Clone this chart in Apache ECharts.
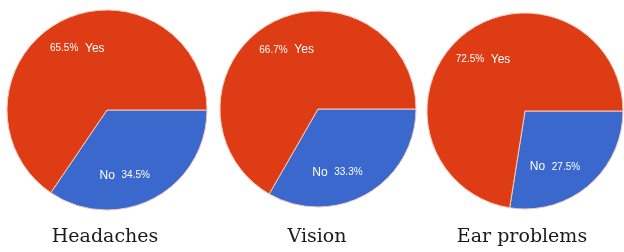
<!DOCTYPE html>
<html>
<head>
<meta charset="utf-8">
<script src="https://cdn.jsdelivr.net/npm/echarts@6/dist/echarts.min.js"></script>
<style>
  html, body { margin: 0; padding: 0; background: #fff; }
  #chart { width: 624px; height: 252px; }
</style>
</head>
<body>
<div id="chart"></div>
<script>
const titles = ['Headaches', 'Vision', 'Ear problems'];
const categories = ['No', 'Yes'];
const noValues = [34.5, 33.3, 27.5];
const yesValues = [65.5, 66.7, 72.5];

const colors = ['#3A68CD', '#DD3C14'];
const centers = [[107, 110], [318, 109], [525, 111]];
const radii = [100, 98, 98];
const titleX = [100, 312, 517];

const myChart = echarts.init(document.getElementById('chart'));

// push inside labels outwards a bit, and the "No" label a bit to the left
function pushOut(c) {
  return function (p) {
    const r = p.labelRect;
    const x = r.x + r.width / 2;
    const y = r.y + r.height / 2;
    const shift = p.dataIndex === 0 ? -16 : 4;
    return { dx: (x - c[0]) * 0.36 + shift, dy: (y - c[1]) * 0.36 + 2 };
  };
}

const series = titles.map((t, i) => ({
  name: t,
  type: 'pie',
  center: centers[i],
  radius: [0, radii[i]],
  startAngle: 0,
  clockwise: true,
  animation: false,
  silent: true,
  itemStyle: { borderColor: '#f4c9bd', borderWidth: 1 },
  label: {
    show: true,
    position: 'inside',
    color: '#fff',
    fontFamily: 'Arial, Liberation Sans, sans-serif',
    formatter: (p) => p.name === 'Yes'
      ? '{p|' + p.value + '%}  {n|' + p.name + '}'
      : '{n|' + p.name + '}  {p|' + p.value + '%}',
    rich: {
      p: { fontSize: 10, color: '#fff' },
      n: { fontSize: 12, color: '#fff' }
    }
  },
  labelLine: { show: false },
  labelLayout: pushOut(centers[i]),
  data: categories.map((c, j) => ({
    name: c,
    value: j === 0 ? noValues[i] : yesValues[i],
    itemStyle: { color: colors[j] }
  }))
}));

myChart.setOption({
  backgroundColor: '#fff',
  title: titles.map((t, i) => ({
    text: t,
    left: titleX[i],
    top: 223,
    textAlign: 'center',
    textStyle: {
      fontFamily: 'DejaVu Serif, serif',
      fontWeight: 'normal',
      fontSize: 19,
      color: '#1a1a1a'
    }
  })),
  series: series
});
</script>
</body>
</html>
